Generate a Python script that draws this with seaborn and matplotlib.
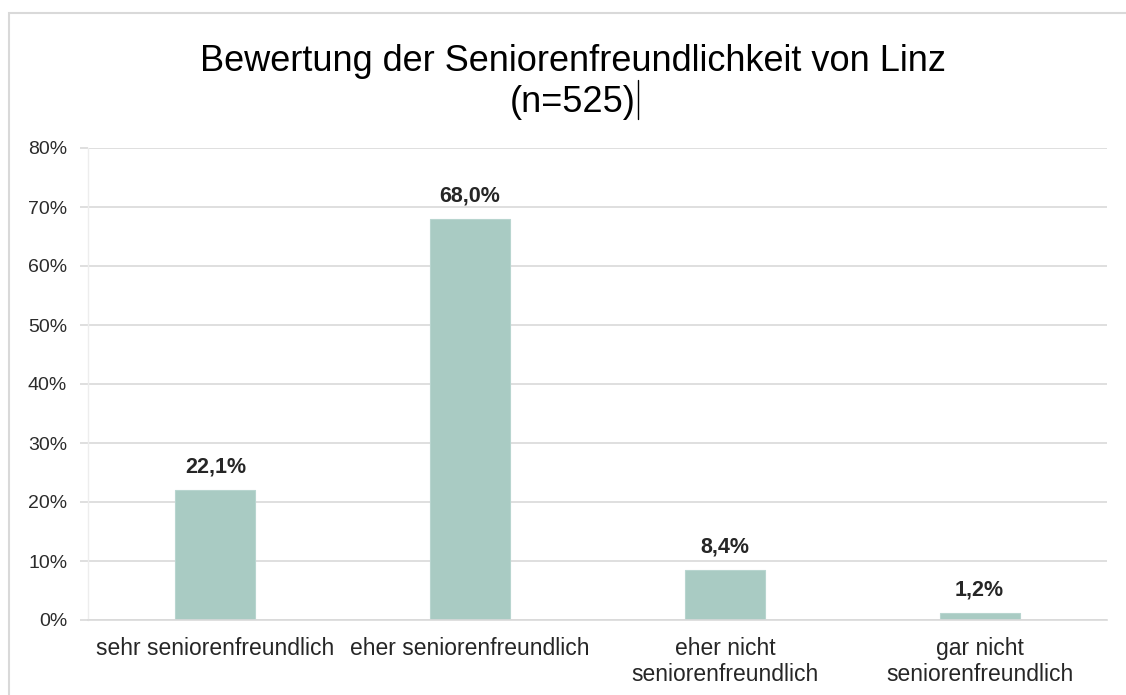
import matplotlib
matplotlib.use("Agg")
import matplotlib.pyplot as plt
import seaborn as sns
import pandas as pd
from matplotlib.patches import Rectangle
from matplotlib.lines import Line2D

# ---- data ----
categories = ["sehr seniorenfreundlich", "eher seniorenfreundlich",
              "eher nicht\nseniorenfreundlich", "gar nicht\nseniorenfreundlich"]
values = [22.1, 68.0, 8.4, 1.2]
value_labels = ["22,1%", "68,0%", "8,4%", "1,2%"]
y_ticks = [0, 10, 20, 30, 40, 50, 60, 70, 80]
y_tick_labels = ["0%", "10%", "20%", "30%", "40%", "50%", "60%", "70%", "80%"]
title = "Bewertung der Seniorenfreundlichkeit von Linz\n(n=525)"

df = pd.DataFrame({"Kategorie": categories, "Anteil": values})

sns.set_theme(style="white")
plt.rcParams["font.family"] = ["Liberation Sans", "DejaVu Sans"]

W, H = 1126, 695
fig = plt.figure(figsize=(W / 100, H / 100), dpi=100)
ax = fig.add_axes([88 / W, 1 - 620 / H, (1107 - 88) / W, (620 - 148) / H])

bar_color = "#a9cbc3"
sns.barplot(data=df, x="Kategorie", y="Anteil", color=bar_color, width=0.314,
            saturation=1, ax=ax, edgecolor="#b8d5cf", linewidth=0.8)

ax.set_ylim(0, 80)
ax.set_xlim(-0.5, 3.5)
ax.set_yticks(y_ticks)
ax.set_yticklabels(y_tick_labels)
ax.set_xlabel("")
ax.set_ylabel("")

grid_c = "#d9d9d9"
ax.yaxis.grid(True, color=grid_c, linewidth=1.2)
ax.set_axisbelow(True)
for s in ["top", "right"]:
    ax.spines[s].set_visible(False)
ax.spines["bottom"].set_color(grid_c)
ax.spines["bottom"].set_linewidth(1.2)
ax.spines["left"].set_color("#ededed")
ax.spines["left"].set_linewidth(1.0)

ax.tick_params(axis="y", length=6, width=1.2, color=grid_c, pad=9,
               labelsize=14, labelcolor="#2b2b2b", left=True)
ax.tick_params(axis="x", length=0, pad=12.5, labelsize=16.5, labelcolor="#262626")
for lbl in ax.get_xticklabels():
    lbl.set_linespacing(1.15)

ax.bar_label(ax.containers[0], labels=value_labels, padding=9,
             fontsize=15.5, fontweight="bold", color="#262626")

# title
fig.text(0.509, 1 - 44 / H, title, ha="center", va="top", fontsize=26,
         color="black", linespacing=1.22)
# text cursor artifact next to title
fig.add_artist(Line2D([638 / W, 638 / W], [1 - 80 / H, 1 - 119 / H],
                      transform=fig.transFigure, color="black", linewidth=1.0))

# chart frame
fig.add_artist(Rectangle((9 / W, -0.05), 1.2, 1 - 13 / H + 0.05,
                         transform=fig.transFigure, fill=False,
                         edgecolor="#d9d9d9", linewidth=1.5))

fig.savefig("out.png", dpi=100)
